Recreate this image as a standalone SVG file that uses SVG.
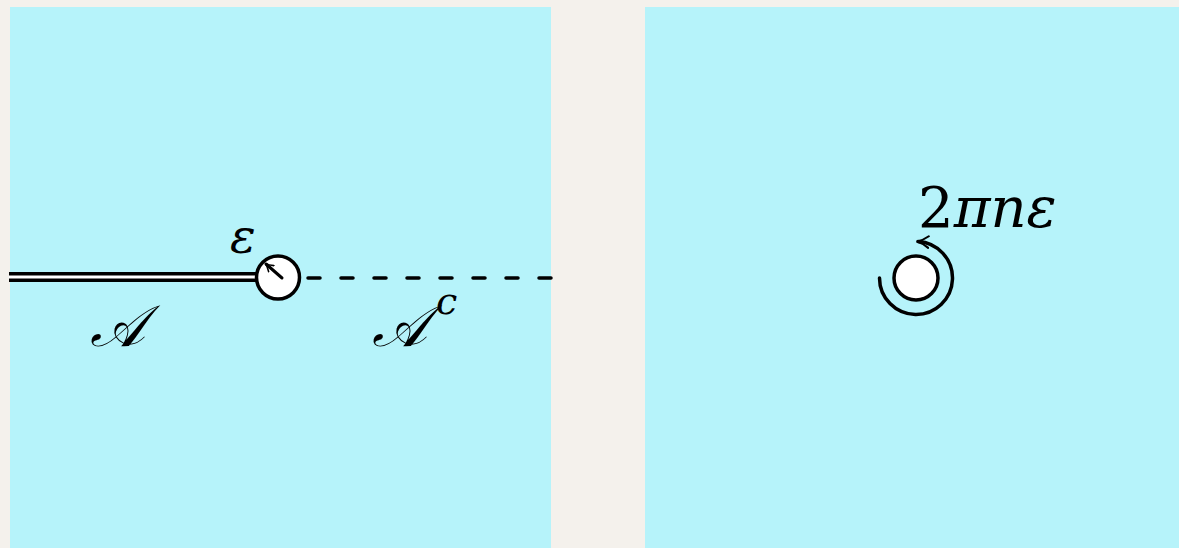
<svg xmlns="http://www.w3.org/2000/svg" width="1179" height="548" viewBox="0 0 1179 548">
<style>
.panel{fill:#b6f3fa}
.hole{fill:#ffffff;stroke:#000;stroke-width:3.5}
.m{font-family:"DejaVu Serif","Liberation Serif",serif;font-style:italic;fill:#000}
.up{font-family:"DejaVu Serif","Liberation Serif",serif;fill:#000}
.ln{fill:none;stroke:#000;stroke-linecap:round}
</style>
<defs>
<marker id="ah" viewBox="0 0 10 10" refX="8" refY="5" markerWidth="10" markerHeight="10" markerUnits="userSpaceOnUse" orient="auto">
<path d="M1,1 Q5,4 9,5 Q5,6 1,9" fill="none" stroke="#000" stroke-width="1.6" stroke-linecap="round"/>
</marker>
<marker id="ah2" viewBox="0 0 12 12" refX="10" refY="6" markerWidth="14" markerHeight="14" markerUnits="userSpaceOnUse" orient="auto">
<path d="M1,1 Q6,5 11,6 Q6,7 1,11" fill="none" stroke="#000" stroke-width="1.8" stroke-linecap="round"/>
</marker>
</defs>
<rect width="1179" height="548" fill="#f4f1ec"/>
<g id="left-panel"><rect class="panel" x="10" y="7" width="541" height="541"/></g>
<g id="right-panel"><rect class="panel" x="645" y="7" width="534" height="541"/></g>
<g id="connectors">
<line x1="9" y1="277" x2="262" y2="277" stroke="#000" stroke-width="10"/>
<line x1="9" y1="277" x2="262" y2="277" stroke="#fff" stroke-width="3.2"/>
<line class="ln" x1="308" y1="278" x2="551" y2="278" stroke-width="3.5" stroke-dasharray="12 21"/>
<path class="ln" d="M879.5,278 A36.5,36.5 0 1 0 918,241.5" stroke-width="3.5" marker-end="url(#ah2)"/>
</g>
<g id="hole-left">
<circle class="hole" cx="278" cy="277.5" r="21.5"/>
<line class="ln" x1="282" y1="278" x2="266" y2="264" stroke-width="3" marker-end="url(#ah)"/>
</g>
<g id="hole-right"><circle class="hole" cx="916" cy="278" r="22"/></g>
<g id="label-eps"><text class="m" x="230" y="253" font-size="48">ε</text></g>
<g id="label-A"><text class="m" x="90" y="346" font-size="58">𝒜</text></g>
<g id="label-Ac"><text class="m" x="372" y="346" font-size="58">𝒜</text><text class="m" x="436" y="314" font-size="38">c</text></g>
<g id="label-2pine"><text x="918" y="227" font-size="56"><tspan class="up">2</tspan><tspan class="m">πnε</tspan></text></g>
</svg>
